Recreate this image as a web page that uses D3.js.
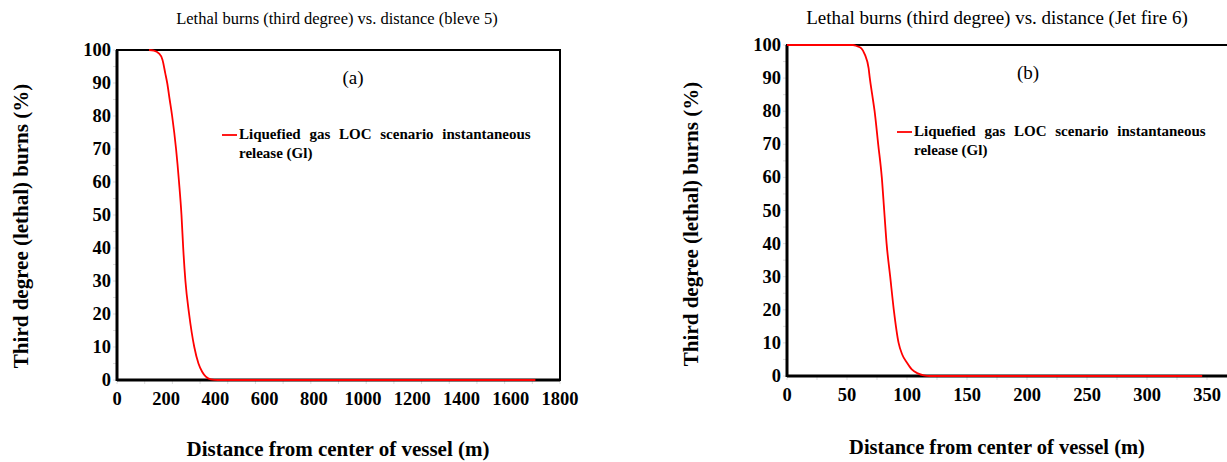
<!DOCTYPE html>
<html>
<head>
<meta charset="utf-8">
<script src="https://cdn.jsdelivr.net/npm/d3@7"></script>
<style>
  body { margin: 0; background: #fff; }
  svg { font-family: "Liberation Serif", "Times New Roman", serif; }
</style>
</head>
<body>
<div id="chart"></div>
<script>
// panel (a): bleve 5
const bleveX = [0, 200, 400, 600, 800, 1000, 1200, 1400, 1600, 1800];
const bleveCurve = [
  [130, 100], [150, 99.8], [170, 99], [185, 97], [196, 93], [204, 90],
  [214, 85], [224, 80], [240, 70], [252, 60], [262, 50], [269, 40],
  [278, 30], [293, 20], [314, 10], [331, 5], [346, 2.5], [361, 1],
  [381, 0.2], [410, 0], [1700, 0],
];

// panel (b): jet fire 6
const jetX = [0, 50, 100, 150, 200, 250, 300, 350];
const jetCurve = [
  [0, 100], [55, 100], [58, 99.7], [62, 99], [65, 97], [68, 93], [69, 90],
  [71, 85], [73, 80], [76, 70], [79, 60], [81, 50], [83, 40], [86, 30],
  [89, 20], [93, 10], [96, 6.5], [100, 4], [104, 2], [109, 0.8], [114, 0.2],
  [119, 0], [346, 0],
];

const yTicks = [0, 10, 20, 30, 40, 50, 60, 70, 80, 90, 100];
const legendLines = ['Liquefied gas LOC scenario instantaneous', 'release (Gl)'];

const svg = d3.select('#chart').append('svg')
  .attr('width', 1227)
  .attr('height', 462);

const panels = [
  {
    title: 'Lethal burns (third degree) vs. distance (bleve 5)',
    titleSize: 16.5,
    tag: '(a)',
    data: bleveCurve,
    xTicks: bleveX,
    xMax: 1800,
    left: 117, right: 560, top: 50, bottom: 380,
    titleX: 337, titleY: 24,
    tagX: 353, tagY: 84,
    legX: 222, legY: 135,
    yTitleX: 28, yTitleY: 226,
    xTitleX: 338, xTitleY: 456,
    xTitleSize: 21,
    xLabY: 405,
  },
  {
    title: 'Lethal burns (third degree) vs. distance (Jet fire 6)',
    titleSize: 19,
    tag: '(b)',
    data: jetCurve,
    xTicks: jetX,
    xMax: 400,
    left: 787, right: 1267, top: 45, bottom: 376,
    titleX: 997, titleY: 24,
    tagX: 1028, tagY: 79,
    legX: 897, legY: 132,
    yTitleX: 698, yTitleY: 224,
    xTitleX: 997, xTitleY: 454,
    xTitleSize: 20.5,
    xLabY: 401,
  },
];

panels.forEach((p) => {
  const x = d3.scaleLinear().domain([0, p.xMax]).range([p.left, p.right]);
  const y = d3.scaleLinear().domain([0, 100]).range([p.bottom, p.top]);

  const g = svg.append('g');

  g.append('text')
    .attr('x', p.titleX)
    .attr('y', p.titleY)
    .attr('text-anchor', 'middle')
    .style('font-size', `${p.titleSize}px`)
    .text(p.title);

  // faint minor ticks on the axes
  const minorX = d3.range(0, p.xMax + 1, p.xMax / 16);
  g.selectAll('.mx').data(minorX).enter().append('line')
    .attr('x1', d => x(d)).attr('x2', d => x(d))
    .attr('y1', p.bottom).attr('y2', p.bottom + 4)
    .attr('stroke', '#ddd').attr('stroke-width', 1);
  g.selectAll('.my').data(d3.range(0, 101, 5)).enter().append('line')
    .attr('x1', p.left - 4).attr('x2', p.left)
    .attr('y1', d => y(d)).attr('y2', d => y(d))
    .attr('stroke', '#ddd').attr('stroke-width', 1);

  // frame
  g.append('rect')
    .attr('x', p.left).attr('y', p.top)
    .attr('width', p.right - p.left).attr('height', p.bottom - p.top)
    .attr('fill', 'none').attr('stroke', '#000').attr('stroke-width', 2);
  g.append('line')
    .attr('x1', p.left).attr('x2', p.left)
    .attr('y1', p.top).attr('y2', p.bottom + 1)
    .attr('stroke', '#000').attr('stroke-width', 3);
  g.append('line')
    .attr('x1', p.left).attr('x2', p.right)
    .attr('y1', p.bottom).attr('y2', p.bottom)
    .attr('stroke', '#000').attr('stroke-width', 3);

  // tick labels
  g.selectAll('.yl').data(yTicks).enter().append('text')
    .attr('x', p.left - 6)
    .attr('y', d => y(d) + 6)
    .attr('text-anchor', 'end')
    .style('font-size', '18.5px')
    .style('font-weight', 'bold')
    .text(d => d);
  g.selectAll('.xl').data(p.xTicks).enter().append('text')
    .attr('x', d => x(d))
    .attr('y', p.xLabY)
    .attr('text-anchor', 'middle')
    .style('font-size', '18.5px')
    .style('font-weight', 'bold')
    .text(d => d);

  // axis titles
  g.append('text')
    .attr('transform', `translate(${p.yTitleX},${p.yTitleY}) rotate(-90)`)
    .attr('text-anchor', 'middle')
    .style('font-size', '21px')
    .style('font-weight', 'bold')
    .text('Third degree (lethal) burns (%)');
  g.append('text')
    .attr('x', p.xTitleX)
    .attr('y', p.xTitleY)
    .attr('text-anchor', 'middle')
    .style('font-size', `${p.xTitleSize}px`)
    .style('font-weight', 'bold')
    .text('Distance from center of vessel (m)');

  // curve
  const line = d3.line()
    .x(d => x(d[0]))
    .y(d => y(d[1]))
    .curve(d3.curveMonotoneX);
  g.append('path')
    .datum(p.data)
    .attr('d', line)
    .attr('fill', 'none')
    .attr('stroke', '#ff0000')
    .attr('stroke-width', 1.8);

  // panel tag
  g.append('text')
    .attr('x', p.tagX)
    .attr('y', p.tagY)
    .attr('text-anchor', 'middle')
    .style('font-size', '19px')
    .text(p.tag);

  // legend
  g.append('line')
    .attr('x1', p.legX).attr('x2', p.legX + 15)
    .attr('y1', p.legY).attr('y2', p.legY)
    .attr('stroke', '#ff0000').attr('stroke-width', 1.8);
  g.selectAll('.lg').data(legendLines).enter().append('text')
    .attr('x', p.legX + 17)
    .attr('y', (d, i) => p.legY + 4 + i * 19)
    .style('font-size', '15px')
    .style('font-weight', 'bold')
    .style('word-spacing', (d, i) => (i === 0 ? '5px' : '0px'))
    .text(d => d);
});
</script>
</body>
</html>
